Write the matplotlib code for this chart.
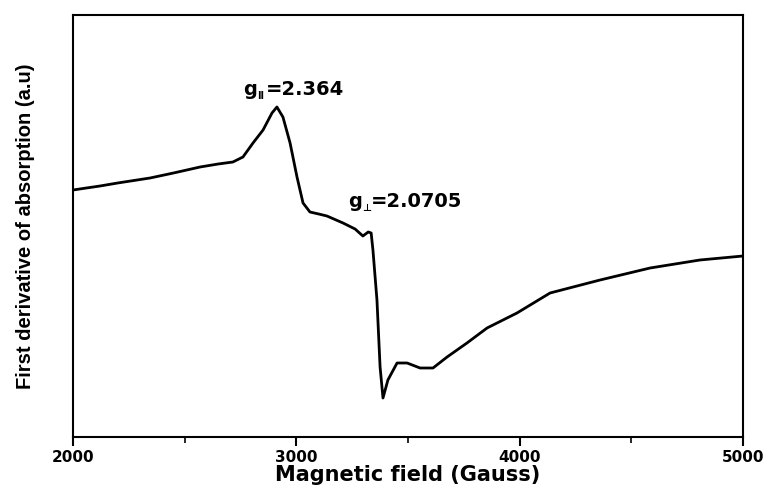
import matplotlib
matplotlib.use("Agg")
import matplotlib.pyplot as plt
from matplotlib.ticker import MultipleLocator

plt.rcParams['font.family'] = ['DejaVu Sans']
plt.rcParams['font.weight'] = 'bold'
plt.rcParams['mathtext.fontset'] = 'dejavusans'
plt.rcParams['mathtext.default'] = 'bf'

# Traced EPR spectrum (field in Gauss, intensity in arbitrary units)
field = [2000, 2060, 2121, 2200, 2345, 2450, 2569, 2650, 2716, 2761, 2806,
         2851, 2891, 2913, 2940, 2972, 3003, 3030, 3061, 3100, 3137, 3209,
         3263, 3298, 3322, 3335, 3343, 3361, 3375, 3388, 3410, 3451, 3496,
         3554, 3612, 3675, 3764, 3854, 3988, 4136, 4360, 4584, 4807, 5000]
intensity = [247, 249, 251, 254, 259, 264, 270, 273, 275, 280, 294,
             307, 324, 330, 320, 294, 260, 234, 225, 223, 221, 214,
             208, 201, 205, 204, 187, 137, 70, 39, 57, 74, 74,
             69, 69, 80, 94, 109, 124, 144, 157, 169, 177, 181]

# (x, y, main symbol, subscript, value text)
labels = [(2761, 342, 'g', 'II', '=2.364'),
          (3231, 230, 'g', '\u22a5', '=2.0705')]

fig = plt.figure(figsize=(7.66, 4.90), dpi=100)
ax = fig.add_axes([73/766, 1-437/490, (743-73)/766, (437-15)/490])
ax.plot(field, intensity, color='black', lw=2.0)
ax.set_xlim(2000, 5000)
ax.set_ylim(0, 422)
ax.xaxis.set_major_locator(MultipleLocator(1000))
ax.xaxis.set_minor_locator(MultipleLocator(500))
ax.set_yticks([])
ax.tick_params(axis='x', which='major', direction='out', length=6.5, width=1.5, labelsize=11, pad=3)
ax.tick_params(axis='x', which='minor', direction='out', length=4, width=1.2)
for lab in ax.get_xticklabels():
    lab.set_fontweight('bold')
for s in ax.spines.values():
    s.set_linewidth(1.5)
ax.set_xlabel('Magnetic field (Gauss)', fontsize=15, fontweight='bold', labelpad=0)
ax.set_ylabel('First derivative of absorption (a.u)', fontsize=14.5, fontweight='bold',
              family='Liberation Sans', labelpad=27)
fs = 14
for x, y, g, sub, val in labels:
    ax.text(x, y, g, fontsize=fs, fontweight='bold', va='baseline', ha='left')
    ax.annotate(sub, xy=(x, y), xytext=(0.72 * fs, -3), textcoords='offset points',
                fontsize=7, fontweight='bold', va='baseline', ha='left')
    ax.annotate(val, xy=(x, y), xytext=(0.72 * fs + 6.5, 0), textcoords='offset points',
                fontsize=fs, fontweight='bold', va='baseline', ha='left')

fig.savefig('out.png', dpi=100)
